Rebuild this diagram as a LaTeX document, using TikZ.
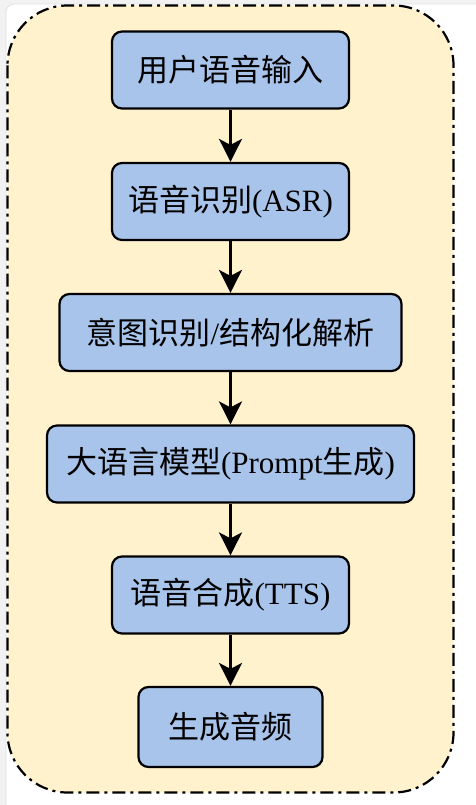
\documentclass[tikz,border=0pt]{standalone}
\usepackage{fontspec}
\setmainfont{Liberation Serif}
\newfontfamily\cjk{Noto Sans CJK SC}
\usetikzlibrary{arrows.meta}
\definecolor{framefill}{HTML}{FFF2CC}
\definecolor{boxfill}{HTML}{A9C4EB}
\definecolor{pagegray}{HTML}{F2F2F2}
\definecolor{edgegray}{HTML}{E0E0E0}
\newcommand{\zh}[1]{{\cjk #1}}
\tikzset{
  stepbox/.style={draw=black, line width=2.2pt, fill=boxfill, rounded corners=10pt,
    minimum height=77pt, inner sep=0pt, font=\fontsize{31}{36}\selectfont},
  flowarrow/.style={draw=black, line width=2.2pt, -{Stealth[length=23pt,width=23pt,inset=6pt]}}
}
\begin{document}
\begin{tikzpicture}[x=1pt,y=-1pt]
\useasboundingbox (0,0) rectangle (476,805);
\fill[pagegray] (0,0) rectangle (476,805);
\fill[white, draw=edgegray, line width=0.8pt, rounded corners=8pt] (6,4) rectangle (490,820);
\draw[line width=2.2pt, fill=framefill, rounded corners=60pt,
  dash pattern=on 13pt off 5pt on 3pt off 5pt] (7.5,5.5) rectangle (453.5,792.5);
\node[stepbox, minimum width=237pt] (n1) at (230.5,70) {\zh{用户语音输入}};
\node[stepbox, minimum width=237pt] (n2) at (230.5,201.5) {\zh{语音识别}(ASR)};
\node[stepbox, minimum width=342pt] (n3) at (230.5,332.5) {\zh{意图识别}/\zh{结构化解析}};
\node[stepbox, minimum width=367pt] (n4) at (230.5,464) {\zh{大语言模型}(Prompt\zh{生成})};
\node[stepbox, minimum width=237pt] (n5) at (230.5,595) {\zh{语音合成}(TTS)};
\node[stepbox, minimum width=184pt, minimum height=80pt] (n6) at (230.5,727) {\zh{生成音频}};
\draw[flowarrow] (n1) -- (n2);
\draw[flowarrow] (n2) -- (n3);
\draw[flowarrow] (n3) -- (n4);
\draw[flowarrow] (n4) -- (n5);
\draw[flowarrow] (n5) -- (n6);
\end{tikzpicture}
\end{document}
